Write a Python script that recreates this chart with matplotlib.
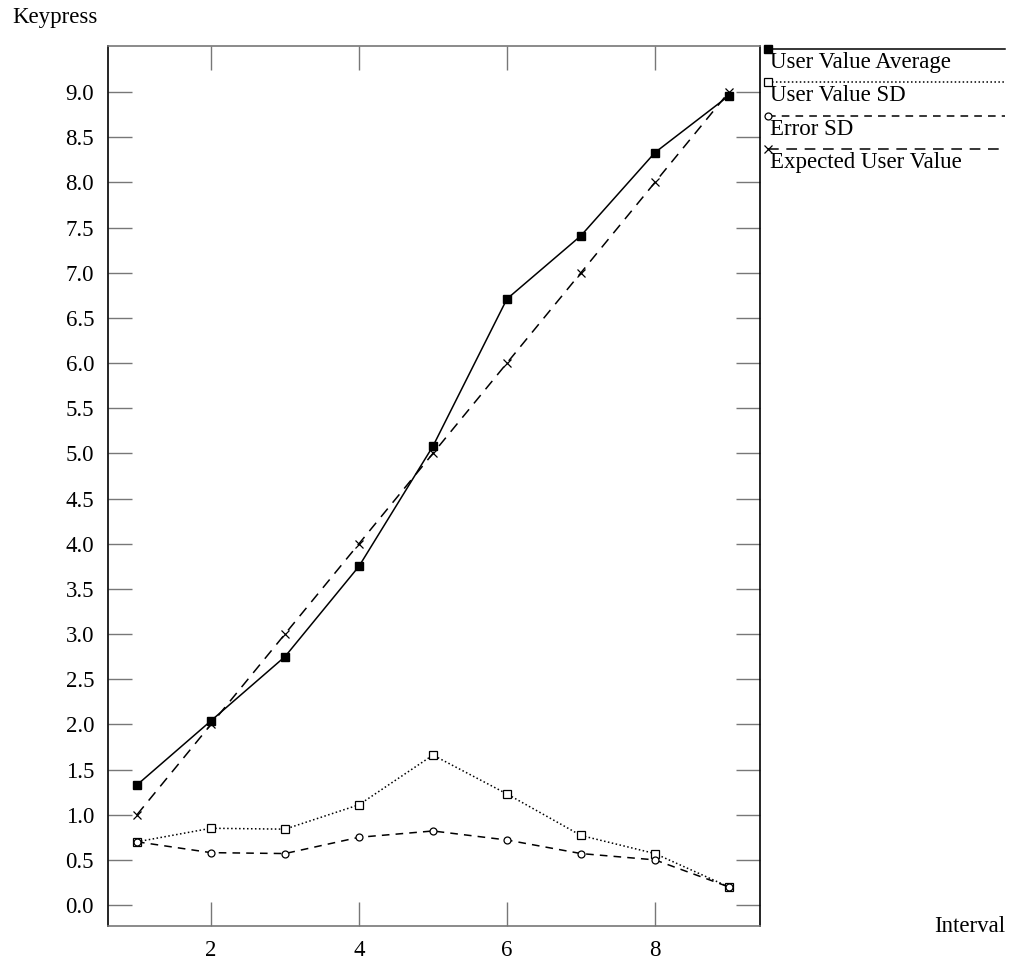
import numpy as np
import matplotlib.pyplot as plt
from matplotlib.lines import Line2D

plt.rcParams['font.family'] = ['Liberation Serif', 'DejaVu Serif']

#############################################
# dane
interval = [1, 2, 3, 4, 5, 6, 7, 8, 9]
user_avg = [1.33, 2.04, 2.75, 3.75, 5.08, 6.71, 7.41, 8.33, 8.96]
user_sd = [0.70, 0.85, 0.84, 1.11, 1.66, 1.23, 0.77, 0.57, 0.20]
error_sd = [0.70, 0.58, 0.57, 0.75, 0.82, 0.72, 0.57, 0.50, 0.20]
expected = [1, 2, 3, 4, 5, 6, 7, 8, 9]

labels = ["User Value Average", "User Value SD", "Error SD", "Expected User Value"]
yticks = np.arange(0, 9.01, 0.5)
xticks = [2, 4, 6, 8]

fs = 16.5

fig = plt.figure(figsize=(10.12, 9.64), dpi=100)
ax = fig.add_axes([108 / 1012, 1 - 926 / 964, 652 / 1012, 880 / 964])

styles = [
    dict(ls='-', marker='s', ms=6, mfc='black', mec='black'),
    dict(ls=(0, (1, 1.6)), marker='s', ms=5.5, mfc='white', mec='black', mew=0.9),
    dict(ls=(0, (5, 4)), marker='o', ms=5, mfc='white', mec='black', mew=0.9),
    dict(ls=(0, (7, 5)), marker='x', ms=5.5, mec='black', mew=0.9),
]
series = [user_avg, user_sd, error_sd, expected]
for s, st in zip(series, styles):
    ax.plot(interval, s, color='black', lw=1.1, **st)

ax.set_xlim(0.608, 9.42)
ax.set_ylim(-0.232, 9.51)
ax.set_xticks(xticks)
ax.set_yticks(yticks)
ax.set_yticklabels(["%.1f" % v for v in yticks])
ax.tick_params(direction='in', length=17, width=1, color='#777777',
               top=True, right=True, labelsize=fs, pad=10)
ax.spines['top'].set_color('#777777')
ax.spines['bottom'].set_color('#777777')
for sp in ax.spines.values():
    sp.set_linewidth(1.2)

# legenda po prawej stronie
leg_y = [49, 82, 116, 149]
for y, st, lab in zip(leg_y, styles, labels):
    yf = 1 - y / 964
    fig.add_artist(Line2D([768 / 1012, 1005 / 1012], [yf, yf], color='black', lw=1.1,
                          ls=st['ls'], transform=fig.transFigure))
    mk = {k: v for k, v in st.items() if k != 'ls'}
    fig.add_artist(Line2D([768 / 1012], [yf], color='black', ls='none',
                          transform=fig.transFigure, **mk))
    fig.text(770 / 1012, yf - 3 / 964, lab, fontsize=fs, va='top', ha='left')

fig.text(12 / 1012, 1 - 17 / 964, "Keypress", fontsize=fs, va='center', ha='left')
fig.text(1005 / 1012, 1 - 927 / 964, "Interval", fontsize=fs, va='center', ha='right')

plt.savefig("out.png", dpi=100)
